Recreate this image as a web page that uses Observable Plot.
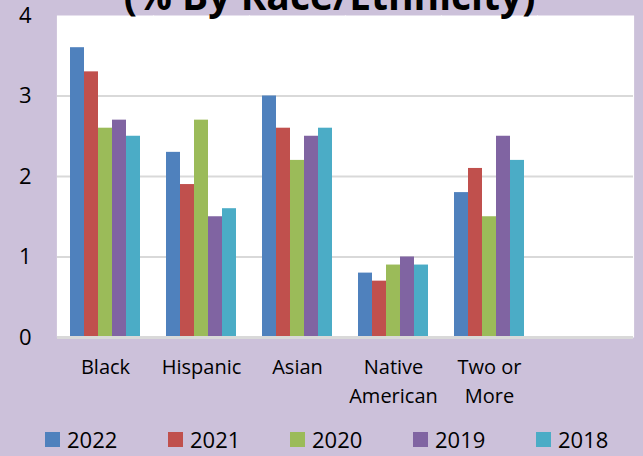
<!DOCTYPE html>
<html><head><meta charset="utf-8">
<script src="https://cdn.jsdelivr.net/npm/d3@7"></script>
<script src="https://cdn.jsdelivr.net/npm/@observablehq/plot@0.6"></script>
<style>
body{margin:0;background:#ccc1da;width:643px;height:456px;overflow:hidden;position:relative;font-family:"Open Sans",sans-serif;}
#title{position:absolute;top:-25px;left:8px;width:643px;text-align:center;font-weight:bold;font-size:39px;line-height:39px;color:#000;white-space:nowrap;}
#chart{position:absolute;top:0;left:0;}
#legend{position:absolute;top:0;left:0;width:643px;height:456px;pointer-events:none;}
.item{position:absolute;top:424px;font-size:22px;color:#000;display:flex;align-items:center;}
.sw{width:15px;height:15px;margin-right:7px;}
</style></head>
<body>
<div id="chart"></div>
<div id="title">(% By Race/Ethnicity)</div>
<div id="legend"></div>
<script>
const categories = ["Black","Hispanic","Asian","Native American","Two or More",""];
const years = ["2022","2021","2020","2019","2018"];
const colors = ["#4f81bd","#c0504d","#9bbb59","#8064a2","#4bacc6"];
const v2022 = [3.6, 2.3, 3.0, 0.8, 1.8];
const v2021 = [3.3, 1.9, 2.6, 0.7, 2.1];
const v2020 = [2.6, 2.7, 2.2, 0.9, 1.5];
const v2019 = [2.7, 1.5, 2.5, 1.0, 2.5];
const v2018 = [2.5, 1.6, 2.6, 0.9, 2.2];
const yTicks = [0,1,2,3,4];
const labelMap = {"Native American":"Native\nAmerican","Two or More":"Two or\nMore"};

const series = [v2022, v2021, v2020, v2019, v2018];
const data = [];
years.forEach((y, i) => series[i].forEach((v, j) => data.push({category: categories[j], year: y, value: v})));

const chart = Plot.plot({
  width: 643, height: 420,
  marginLeft: 55, marginRight: 8, marginTop: 15, marginBottom: 83,
  style: {background: "transparent", fontFamily: "'Open Sans', sans-serif", color: "#000"},
  fx: {domain: categories, padding: 0, label: null, axis: null},
  x: {domain: years, paddingInner: 0, paddingOuter: 0.9, axis: null},
  y: {domain: [0, 4], label: null, axis: null},
  color: {domain: years, range: colors},
  marks: [
    Plot.frame({fill: "white", stroke: null, insetLeft: -0.6, insetRight: -0.6}),
    Plot.gridY([1,2,3], {stroke: "#d9d9d9", strokeWidth: 2, strokeOpacity: 1}),
    Plot.barY(data, {fx: "category", x: "year", y: "value", fill: "year"}),
    Plot.ruleY(categories, {fx: d => d, y: () => 0, stroke: "#d9d9d9", strokeWidth: 3}),
    Plot.axisY({ticks: yTicks, tickFormat: d3.format("d"), tickSize: 0, tickPadding: 26, fontSize: 22, label: null, fill: "#000"}),
    Plot.axisFx({anchor: "bottom", tickSize: 0, tickPadding: 16, fontSize: 20, lineHeight: 1.45, label: null, fill: "#000",
      tickFormat: d => labelMap[d] ?? d})
  ]
});
document.getElementById("chart").appendChild(chart);

const lx = [45, 168, 290, 413, 536];
const leg = document.getElementById("legend");
years.forEach((y, i) => {
  const it = document.createElement("div");
  it.className = "item";
  it.style.left = lx[i] + "px";
  it.innerHTML = `<div class="sw" style="background:${colors[i]}"></div><span>${y}</span>`;
  leg.appendChild(it);
});
</script>
</body></html>
